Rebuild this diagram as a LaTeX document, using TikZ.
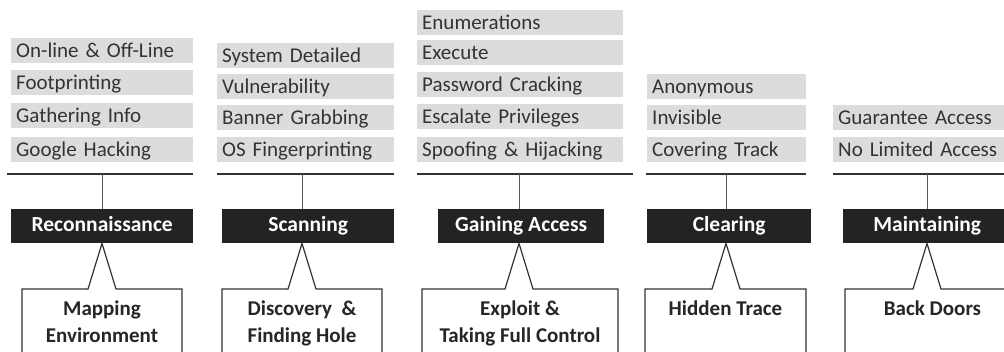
\documentclass[tikz,border=0pt]{standalone}
\usepackage{fontspec}
\setmainfont{Carlito}
\usetikzlibrary{calc, positioning}

\definecolor{itemfill}{HTML}{DCDCDC}
\definecolor{itemtext}{HTML}{333333}
\definecolor{phasefill}{HTML}{232323}

\tikzset{
  item/.style={fill=itemfill, text=itemtext, font=\fontsize{21}{23}\selectfont,
    anchor=north west, minimum height=25pt, inner xsep=5pt, inner ysep=0pt, align=left,
    text height=15.5pt, text depth=2.5pt},
  phase/.style={fill=phasefill, text=white, font=\bfseries\fontsize{21.5}{24}\selectfont,
    anchor=north west, minimum height=34pt, inner sep=0pt, text height=14pt, text depth=4pt},
  goal/.style={text=black!85, font=\bfseries\fontsize{21}{27}\selectfont,
    align=center, anchor=north, inner sep=0pt},
  rule/.style={draw=black!80, line width=1.2pt},
  link/.style={draw=black!65, line width=0.9pt},
}

\begin{document}
\begin{tikzpicture}[x=1pt, y=-1pt]
    \path[use as bounding box, clip] (0,0) rectangle (1004,352);

    % activities of every phase
    \foreach \y/\txt [count=\i] in {38/On-line \& Off-Line, 70/Footprinting,
        103/Gathering Info, 137/Google Hacking}
        \node[item, text width=172pt] (rec-\i) at (11,\y) {\txt};
    \foreach \y/\txt [count=\i] in {43/System Detailed, 74/Vulnerability,
        105/Banner Grabbing, 137/OS Fingerprinting}
        \node[item, text width=167pt] (scan-\i) at (217,\y) {\txt};
    \foreach \y/\txt [count=\i] in {10/Enumerations, 40/Execute, 72/Password Cracking,
        104/Escalate Privileges, 137/Spoofing \& Hijacking}
        \node[item, text width=196pt] (gain-\i) at (417,\y) {\txt};
    \foreach \y/\txt [count=\i] in {74/Anonymous, 105/Invisible, 137/Covering Track}
        \node[item, text width=149pt] (clear-\i) at (647,\y) {\txt};
    \foreach \y/\txt [count=\i] in {105/Guarantee Access, 137/No Limited Access}
        \node[item, text width=180pt] (keep-\i) at (833,\y) {\txt};

    % the five phases
    \node[phase, minimum width=182pt] (recon) at (11,209) {Reconnaissance};
    \node[phase, minimum width=172pt] (scan) at (222,209) {Scanning};
    \node[phase, minimum width=166pt] (gain) at (438,209) {Gaining Access};
    \node[phase, minimum width=164pt] (clear) at (647,209) {Clearing};
    \node[phase, minimum width=168pt] (keep) at (843,209) {Maintaining};

    % rule under each list, tap down to the phase
    \foreach \l/\r/\a/\p in {7/193/102/recon, 217/394/302/scan, 417/633/519/gain,
        646/806/726/clear, 833/1010/927/keep} {
        \coordinate (tap-\p) at (\a,174);
        \draw[rule] (\l,174) -- (\r,174);
        \draw[link] (tap-\p) -- (tap-\p |- \p.north);
    }

    % callouts with the goal of each phase
    \foreach \l/\r/\a/\p/\txt in {22/182/102/recon/{Mapping\\Environment},
        222/382/302/scan/{Discovery~~\&\\Finding Hole},
        422/618/519/gain/{Exploit \&\\Taking Full Control},
        645/806/726/clear/{Hidden Trace}, 845/1020/927/keep/{Back Doors}} {
        \draw[rule, fill=white] (\l,360) -- (\l,289) -- (\a-14,289)
            -- (\a,0 |- \p.south) -- (\a+14,289) -- (\r,289) -- (\r,360);
        \node[goal] (goal-\p) at ({(\l+\r)/2},301) {\txt};
    }
\end{tikzpicture}
\end{document}
